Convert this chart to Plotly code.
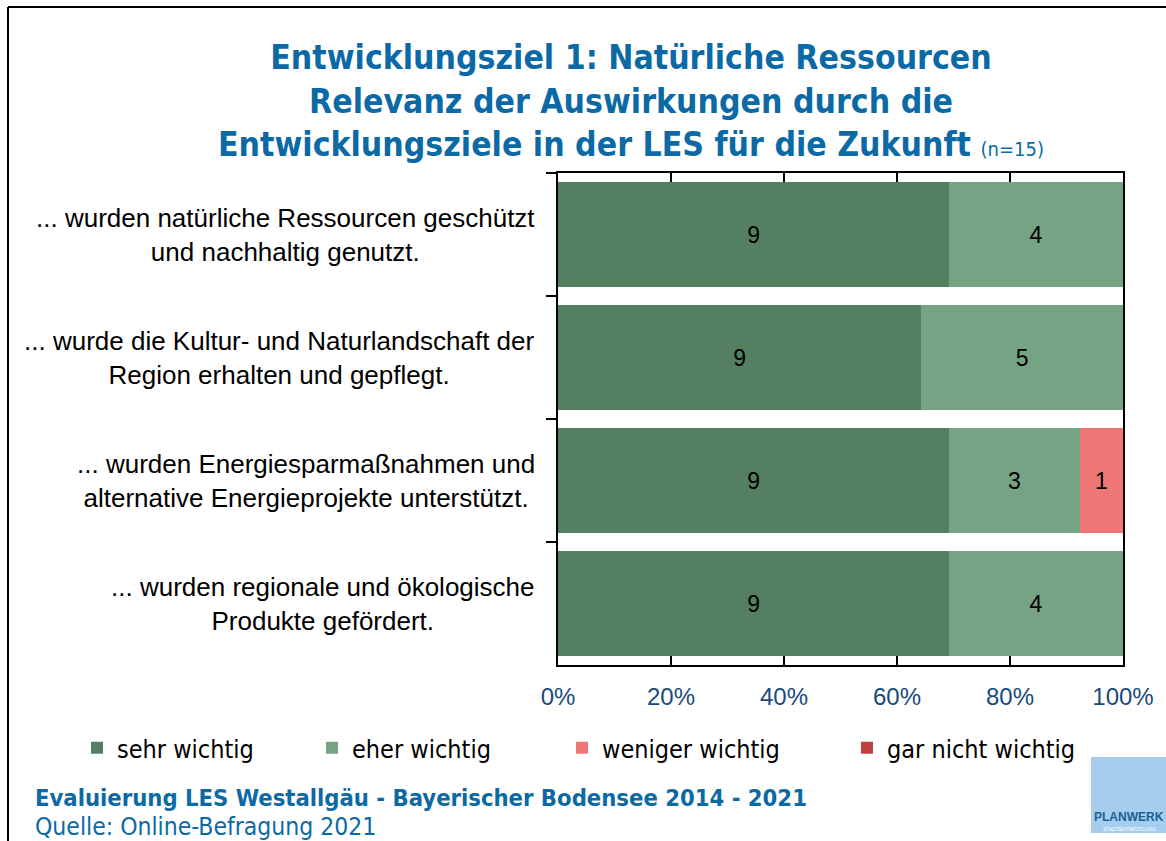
import plotly.graph_objects as go

# categories (top to bottom)
aussagen = [
    '... wurden natürliche Ressourcen geschützt<br>und nachhaltig genutzt.',
    '... wurde die Kultur- und Naturlandschaft der<br>Region erhalten und gepflegt.',
    '... wurden Energiesparmaßnahmen und<br>alternative Energieprojekte unterstützt.',
    '... wurden regionale und ökologische<br>Produkte gefördert.',
]
kategorien = ['A1', 'A2', 'A3', 'A4']

sehr_wichtig = [9, 9, 9, 9]
eher_wichtig = [4, 5, 3, 4]
weniger_wichtig = [0, 0, 1, 0]
gar_nicht_wichtig = [0, 0, 0, 0]

x_ticks = [0, 20, 40, 60, 80, 100]

W, H = 1166, 841
L, R, T, B = 558, 43, 173, 176
PW, PH = W - L - R, H - T - B


def px(x):
    return (x - L) / PW


def py(y):
    return (H - B - y) / PH


COND = 'DejaVu Sans Condensed, DejaVu Sans, sans-serif'
ARIAL = 'Liberation Sans, Arial, sans-serif'
BLUE = '#0b6aa6'

serien = [
    ('sehr wichtig', sehr_wichtig, '#557f61', 'legend', 77),
    ('eher wichtig', eher_wichtig, '#75a383', 'legend2', 312),
    ('weniger wichtig', weniger_wichtig, '#ee7775', 'legend3', 562),
    ('gar nicht wichtig', gar_nicht_wichtig, '#c0403f', 'legend4', 847),
]

fig = go.Figure()
legends = {}
for name, vals, color, leg, lx in serien:
    fig.add_trace(go.Bar(
        y=kategorien, x=vals, name=name, orientation='h', legend=leg,
        showlegend=True,
        marker=dict(color=color, line=dict(width=0)),
        text=[str(v) if v else '' for v in vals],
        textposition='inside', insidetextanchor='middle', textangle=0,
        textfont=dict(family=ARIAL, size=23, color='black'),
        hoverinfo='skip',
    ))
    legends[leg] = dict(
        x=px(lx), xanchor='left', y=py(748), yanchor='middle',
        font=dict(family=COND, size=25, color='black'),
        bgcolor='rgba(0,0,0,0)', itemwidth=30,
    )

annotations = [
    dict(x=px(631), y=py(36), xref='paper', yref='paper', xanchor='center', yanchor='top',
         align='center', showarrow=False,
         text='<b>Entwicklungsziel 1: Natürliche Ressourcen<br>Relevanz der Auswirkungen durch die<br>'
              'Entwicklungsziele in der LES für die Zukunft</b> <span style="font-size:20px">(n=15)</span>',
         font=dict(family=COND, size=33.5, color=BLUE)),
]
for cat, label in zip(kategorien, aussagen):
    annotations.append(dict(
        x=px(537), xref='paper', y=cat, yref='y', text=label,
        xanchor='right', yanchor='middle', align='center', showarrow=False,
        font=dict(family=ARIAL, size=26, color='black'),
    ))

annotations += [
    dict(x=px(33), y=py(798), xref='paper', yref='paper', xanchor='left', yanchor='middle',
         text='<b>Evaluierung LES Westallgäu - Bayerischer Bodensee 2014 - 2021</b>',
         showarrow=False, font=dict(family=COND, size=23.6, color=BLUE)),
    dict(x=px(33), y=py(826), xref='paper', yref='paper', xanchor='left', yanchor='middle',
         text='Quelle: Online-Befragung 2021',
         showarrow=False, font=dict(family=COND, size=24.5, color=BLUE)),
    dict(x=px(1129), y=py(817), xref='paper', yref='paper', xanchor='center', yanchor='middle',
         text='<b>PLANWERK</b>', showarrow=False,
         font=dict(family=ARIAL, size=12, color='#1f5f99')),
    dict(x=px(1129), y=py(829), xref='paper', yref='paper', xanchor='center', yanchor='middle',
         text='STADTENTWICKLUNG', showarrow=False,
         font=dict(family=ARIAL, size=5, color='white')),
]

shapes = [
    # outer frame (left and top)
    dict(type='line', xref='paper', yref='paper', x0=px(8), x1=px(8), y0=py(7), y1=py(841),
         line=dict(color='black', width=2)),
    dict(type='line', xref='paper', yref='paper', x0=px(8), x1=px(1166), y0=py(7), y1=py(7),
         line=dict(color='black', width=2)),
    # logo
    dict(type='rect', xref='paper', yref='paper', x0=px(1091), x1=px(1166), y0=py(757), y1=py(833),
         fillcolor='#a4cdee', line=dict(width=0)),
]

fig.update_layout(
    width=W, height=H,
    margin=dict(l=L, r=R, t=T, b=B, autoexpand=False),
    paper_bgcolor='white', plot_bgcolor='white',
    barmode='stack', barnorm='percent', bargap=0.15,
    showlegend=True,
    xaxis=dict(
        range=[0, 100], tickvals=x_ticks, ticktext=[f'{v}%' for v in x_ticks],
        ticks='inside', ticklen=9, tickwidth=2, tickcolor='black',
        showline=True, linecolor='black', linewidth=2, mirror='ticks',
        showgrid=False, zeroline=False, ticklabelstandoff=9,
        tickfont=dict(family=ARIAL, size=24, color='#1a4a7c'),
    ),
    yaxis=dict(
        autorange='reversed', showticklabels=False,
        ticks='outside', tickson='boundaries', ticklen=10, tickwidth=2, tickcolor='black',
        showline=True, linecolor='black', linewidth=2, mirror=True,
        showgrid=False, zeroline=False,
    ),
    annotations=annotations,
    shapes=shapes,
    **legends,
)

fig.write_html('out.html', config={'displayModeBar': False},
               post_script="document.body.style.margin='0';document.body.style.overflow='hidden';")
